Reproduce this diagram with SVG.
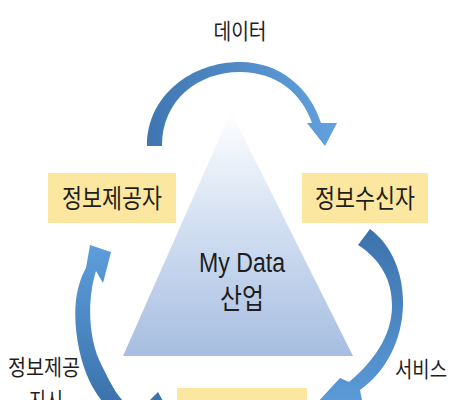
<svg xmlns="http://www.w3.org/2000/svg" width="462" height="400" viewBox="0 0 462 400">
  <defs>
    <linearGradient id="tri" x1="0" y1="0" x2="0" y2="1">
      <stop offset="0" stop-color="#ffffff"/>
      <stop offset="0.45" stop-color="#d3e0f2"/>
      <stop offset="1" stop-color="#a7bee1"/>
    </linearGradient>
    <linearGradient id="gTop" x1="0" y1="0" x2="1" y2="0">
      <stop offset="0" stop-color="#3f76b1"/>
      <stop offset="1" stop-color="#62a2de"/>
    </linearGradient>
    <linearGradient id="gRight" x1="0" y1="0" x2="0" y2="1">
      <stop offset="0" stop-color="#3c72ac"/>
      <stop offset="1" stop-color="#5c9cd9"/>
    </linearGradient>
    <linearGradient id="gLeft" x1="0" y1="0" x2="0" y2="1">
      <stop offset="0" stop-color="#5d9edb"/>
      <stop offset="1" stop-color="#3a70aa"/>
    </linearGradient>
  </defs>
  <style>
    .box { fill: #fce7a0; }
    .kr { font-family: "Noto Sans CJK KR", "Noto Sans", sans-serif; fill: #1e1e1e; }
    .lbl { font-size: 22px; }
    .big { font-size: 26px; }
    .en { font-family: "Liberation Sans", "Noto Sans CJK KR", sans-serif; fill: #1e1e1e; }
  </style>
  <rect width="462" height="400" fill="#ffffff"/>

  <g id="industry">
    <polygon points="231,112 353,356 123,356" fill="url(#tri)"/>
    <text class="en" x="242" y="272" font-size="27" text-anchor="middle" textLength="86" lengthAdjust="spacingAndGlyphs">My Data</text>
    <text class="kr" x="242" y="309" font-size="28" text-anchor="middle" textLength="44" lengthAdjust="spacingAndGlyphs">산업</text>
  </g>

  <g id="connectors">
    <path id="arrow-data" d="M147,146 C147,95 192,62 240,62 C280,62 310,88 321,123 L337,123 L325,146 L307,123 L312,123 C302,93 276,72 240,72 C198,72 162,100 162,146 Z" fill="url(#gTop)"/>
    <path id="arrow-service" d="M370,229 C393,246 404,276 403,306 C402,340 386,372 360,390 L364,410 L316,404 L340,378 L349,382 C373,362 392,336 392,306 C392,280 381,260 358,245 Z" fill="url(#gRight)"/>
    <path id="arrow-instruct" d="M90,245 L111,252 L103,283 L96,271 C87,300 88,340 102,366 C110,382 116,394 124,402 L148,402 L158,392 L168,410 L110,410 C100,400 94,390 90,382 C79,360 73,325 76,300 C78,285 82,275 86,268 Z" fill="url(#gLeft)"/>
    <text class="kr lbl" x="240" y="39" text-anchor="middle" textLength="53" lengthAdjust="spacingAndGlyphs">데이터</text>
    <text class="kr lbl" x="421" y="377" text-anchor="middle" textLength="52" lengthAdjust="spacingAndGlyphs">서비스</text>
    <text class="kr lbl" x="44" y="375" text-anchor="middle" textLength="72" lengthAdjust="spacingAndGlyphs">정보제공</text>
    <text class="kr lbl" x="46" y="408" text-anchor="middle" textLength="34" lengthAdjust="spacingAndGlyphs">지시</text>
  </g>

  <g id="provider">
    <rect class="box" x="48" y="173" width="128" height="50"/>
    <text class="kr big" x="112" y="208" text-anchor="middle" textLength="100" lengthAdjust="spacingAndGlyphs">정보제공자</text>
  </g>

  <g id="receiver">
    <rect class="box" x="302" y="173" width="126" height="50"/>
    <text class="kr big" x="365" y="208" text-anchor="middle" textLength="100" lengthAdjust="spacingAndGlyphs">정보수신자</text>
  </g>

  <g id="subject">
    <rect class="box" x="177" y="388" width="130" height="40"/>
    <text class="kr big" x="242" y="422" text-anchor="middle" textLength="100" lengthAdjust="spacingAndGlyphs">정보주체</text>
  </g>
</svg>
